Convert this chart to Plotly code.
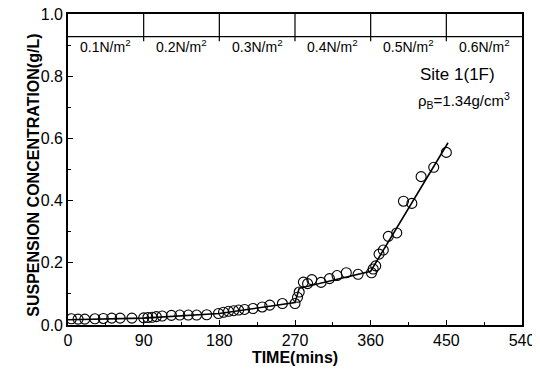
import plotly.graph_objects as go

# measured points
time_min = [4, 12, 20, 32, 42, 52, 62, 76,
            90, 95, 100, 105, 112, 123, 133, 143, 153, 165,
            179, 185, 191, 197, 203, 210, 220, 231, 240, 255, 270,
            273, 275, 280, 285, 290, 301, 311, 320, 331, 345,
            361, 363, 366, 370, 375, 381, 391, 399, 409, 420, 435, 450]
conc = [0.020, 0.019, 0.019, 0.020, 0.021, 0.022, 0.022, 0.022,
        0.023, 0.024, 0.025, 0.027, 0.029, 0.031, 0.032, 0.032, 0.032, 0.033,
        0.037, 0.041, 0.044, 0.046, 0.048, 0.050, 0.053, 0.058, 0.064, 0.069, 0.069,
        0.089, 0.106, 0.138, 0.133, 0.146, 0.137, 0.149, 0.159, 0.168, 0.163,
        0.168, 0.180, 0.190, 0.228, 0.241, 0.285, 0.296, 0.398, 0.391, 0.477, 0.507, 0.555]

# fitted trend
fit_time = [0, 90, 180, 270, 275, 360, 452]
fit_conc = [0.017, 0.022, 0.037, 0.072, 0.118, 0.173, 0.586]

# shear stress stages
stage_bounds = [0, 90, 180, 270, 360, 450, 540]
stage_labels = ["0.1N/m<sup>2</sup>", "0.2N/m<sup>2</sup>", "0.3N/m<sup>2</sup>",
                "0.4N/m<sup>2</sup>", "0.5N/m<sup>2</sup>", "0.6N/m<sup>2</sup>"]

x_ticks = [0, 90, 180, 270, 360, 450, 540]
y_ticks = [0.0, 0.2, 0.4, 0.6, 0.8, 1.0]

FONT = "Liberation Sans, Arial"

fig = go.Figure()
fig.add_trace(go.Scatter(x=fit_time, y=fit_conc, mode="lines",
                         line=dict(color="black", width=1.6), showlegend=False))
fig.add_trace(go.Scatter(x=time_min, y=conc, mode="markers",
                         marker=dict(symbol="circle-open", size=10, color="black",
                                     line=dict(width=1.1, color="black")),
                         showlegend=False))

shapes = [dict(type="line", xref="x", yref="y", x0=0, x1=540, y0=0.927, y1=0.927,
               line=dict(color="black", width=1.2))]
for b in stage_bounds[1:-1]:
    shapes.append(dict(type="line", xref="x", yref="y", x0=b, x1=b, y0=0.912, y1=1.0,
                       line=dict(color="black", width=1.2)))
annotations = []
for i, lab in enumerate(stage_labels):
    annotations.append(dict(x=(stage_bounds[i] + stage_bounds[i + 1]) / 2, y=0.898,
                            xref="x", yref="y", text=lab, showarrow=False,
                            font=dict(family=FONT, size=14, color="black")))
annotations.append(dict(x=463, y=0.806, xref="x", yref="y", text="Site 1(1F)", showarrow=False,
                        font=dict(family=FONT, size=17, color="black")))
annotations.append(dict(x=471, y=0.723, xref="x", yref="y",
                        text="ρ<sub>B</sub>=1.34g/cm<sup>3</sup>", showarrow=False,
                        font=dict(family=FONT, size=15, color="black")))
# y-axis title
annotations.append(dict(x=-0.101, y=0.482, xref="paper", yref="paper", textangle=-90,
                        text="<b>SUSPENSION CONCENTRATION(g/L)</b>", showarrow=False,
                        font=dict(family=FONT, size=16, color="black")))

axis_common = dict(showgrid=False, zeroline=False, showline=True, linecolor="black",
                   linewidth=1.6, mirror=True, ticks="inside", ticklen=5, tickwidth=1.2,
                   tickcolor="black", automargin=False, ticklabeloverflow="allow",
                   tickfont=dict(family=FONT, size=16, color="black"))

# page body adds an 8px offset, so the figure is 8px smaller and margins compensate
fig.update_layout(
    width=532, height=361,
    margin=dict(l=60, r=18, t=6, b=44),
    paper_bgcolor="white", plot_bgcolor="white",
    shapes=shapes, annotations=annotations,
    xaxis=dict(range=[0, 540], tickvals=x_ticks,
               minor=dict(dtick=45, tick0=0, ticks="inside", ticklen=3, tickcolor="black"),
               title=dict(text="<b>TIME(mins)</b>", standoff=0,
                          font=dict(family=FONT, size=16, color="black")),
               **axis_common),
    yaxis=dict(range=[0, 1.0], tickvals=y_ticks, tickformat=".1f",
               minor=dict(dtick=0.1, tick0=0, ticks="inside", ticklen=3, tickcolor="black"),
               **axis_common),
)

fig.write_html("out.html")
